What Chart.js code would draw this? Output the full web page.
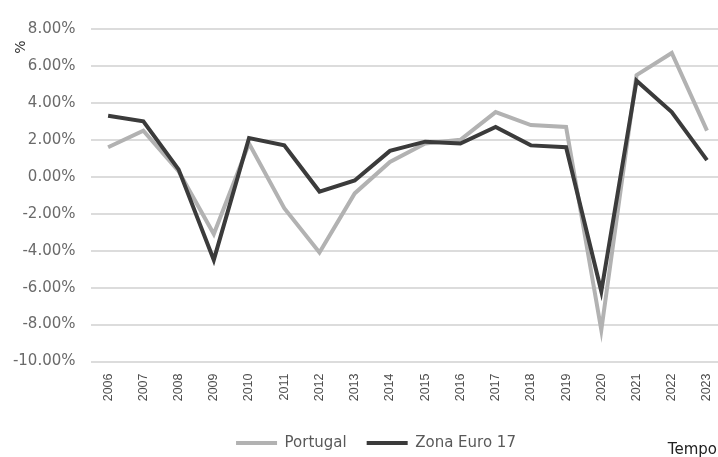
<!DOCTYPE html>
<html>
<head>
<meta charset="utf-8">
<script src="https://cdn.jsdelivr.net/npm/chart.js@4/dist/chart.umd.min.js"></script>
<style>
  html, body { margin: 0; padding: 0; background: #ffffff; overflow: hidden; }
  #wrap { width: 718px; height: 457px; overflow: hidden; }
  canvas { display: block; }
</style>
</head>
<body>
<div id="wrap"><canvas id="chart" width="752" height="457"></canvas></div>
<script>
// Crescimento anual do PIB real (%)
const years = ['2006','2007','2008','2009','2010','2011','2012','2013','2014',
               '2015','2016','2017','2018','2019','2020','2021','2022','2023'];
const portugal = [1.6, 2.5, 0.3, -3.1, 1.8, -1.7, -4.1, -0.9, 0.8,
                  1.8, 2.0, 3.5, 2.8, 2.7, -8.3, 5.5, 6.7, 2.5];
const zonaEuro17 = [3.3, 3.0, 0.4, -4.5, 2.1, 1.7, -0.8, -0.2, 1.4,
                    1.9, 1.8, 2.7, 1.7, 1.6, -6.2, 5.2, 3.5, 0.9];
const seriesNames = ['Portugal', 'Zona Euro 17'];
const yUnit = '%';
const xTitle = 'Tempo';

const FONT = 'DejaVu Sans';

// Axis captions: "%" above the value axis, "Tempo" in the lower right corner
const captions = {
  id: 'captions',
  afterDraw(chart) {
    const ctx = chart.ctx;
    ctx.save();
    ctx.fillStyle = '#333333';
    ctx.font = '14px "' + FONT + '"';
    ctx.textAlign = 'center';
    ctx.textBaseline = 'middle';
    ctx.translate(21, 47);
    ctx.rotate(-Math.PI / 2);
    ctx.fillText(yUnit, 0, 0);
    ctx.restore();

    ctx.save();
    ctx.fillStyle = '#222222';
    ctx.font = '15px "' + FONT + '"';
    ctx.textAlign = 'right';
    ctx.textBaseline = 'middle';
    ctx.fillText(xTitle, 717, 450);
    ctx.restore();
  }
};

new Chart(document.getElementById('chart'), {
  type: 'line',
  data: {
    labels: years,
    datasets: [
      {
        label: seriesNames[0],
        data: portugal,
        borderColor: '#b2b2b2',
        backgroundColor: '#b2b2b2',
        borderWidth: 4,
        pointRadius: 0,
        tension: 0,
        order: 1
      },
      {
        label: seriesNames[1],
        data: zonaEuro17,
        borderColor: '#3b3b3b',
        backgroundColor: '#3b3b3b',
        borderWidth: 4,
        pointRadius: 0,
        tension: 0,
        order: 0
      }
    ]
  },
  options: {
    responsive: false,
    animation: false,
    devicePixelRatio: 1,
    layout: { padding: { left: 0, right: 0, top: 29, bottom: -3.5 } },
    plugins: {
      tooltip: { enabled: false },
      legend: {
        position: 'bottom',
        labels: {
          usePointStyle: true,
          pointStyle: 'line',
          pointStyleWidth: 41,
          boxHeight: 4,
          padding: 20,
          color: '#595959',
          font: { family: FONT, size: 15 },
          sort: (a, b) => a.datasetIndex - b.datasetIndex
        }
      }
    },
    scales: {
      x: {
        offset: true,
        grid: { display: false, drawTicks: false },
        border: { display: false },
        ticks: {
          minRotation: 90,
          maxRotation: 90,
          padding: 12,
          autoSkip: false,
          color: '#4d4d4d',
          font: { family: 'Liberation Sans', size: 12.5 }
        },
        afterFit(scale) { scale.height = 54; }
      },
      y: {
        min: -10,
        max: 8,
        grid: { color: '#dcdcdc', lineWidth: 2, drawTicks: false },
        border: { display: false },
        ticks: {
          stepSize: 2,
          padding: 15,
          color: '#6a6a6a',
          font: { family: FONT, size: 15 },
          callback: (v) => v.toFixed(2) + '%'
        },
        afterFit(scale) { scale.width = 90.5; }
      },
      // empty margin on the right of the plot area
      yRight: {
        position: 'right',
        grid: { display: false, drawTicks: false },
        border: { display: false },
        ticks: { display: false },
        afterFit(scale) { scale.width = 27.4; }
      }
    }
  },
  plugins: [captions]
});
</script>
</body>
</html>
